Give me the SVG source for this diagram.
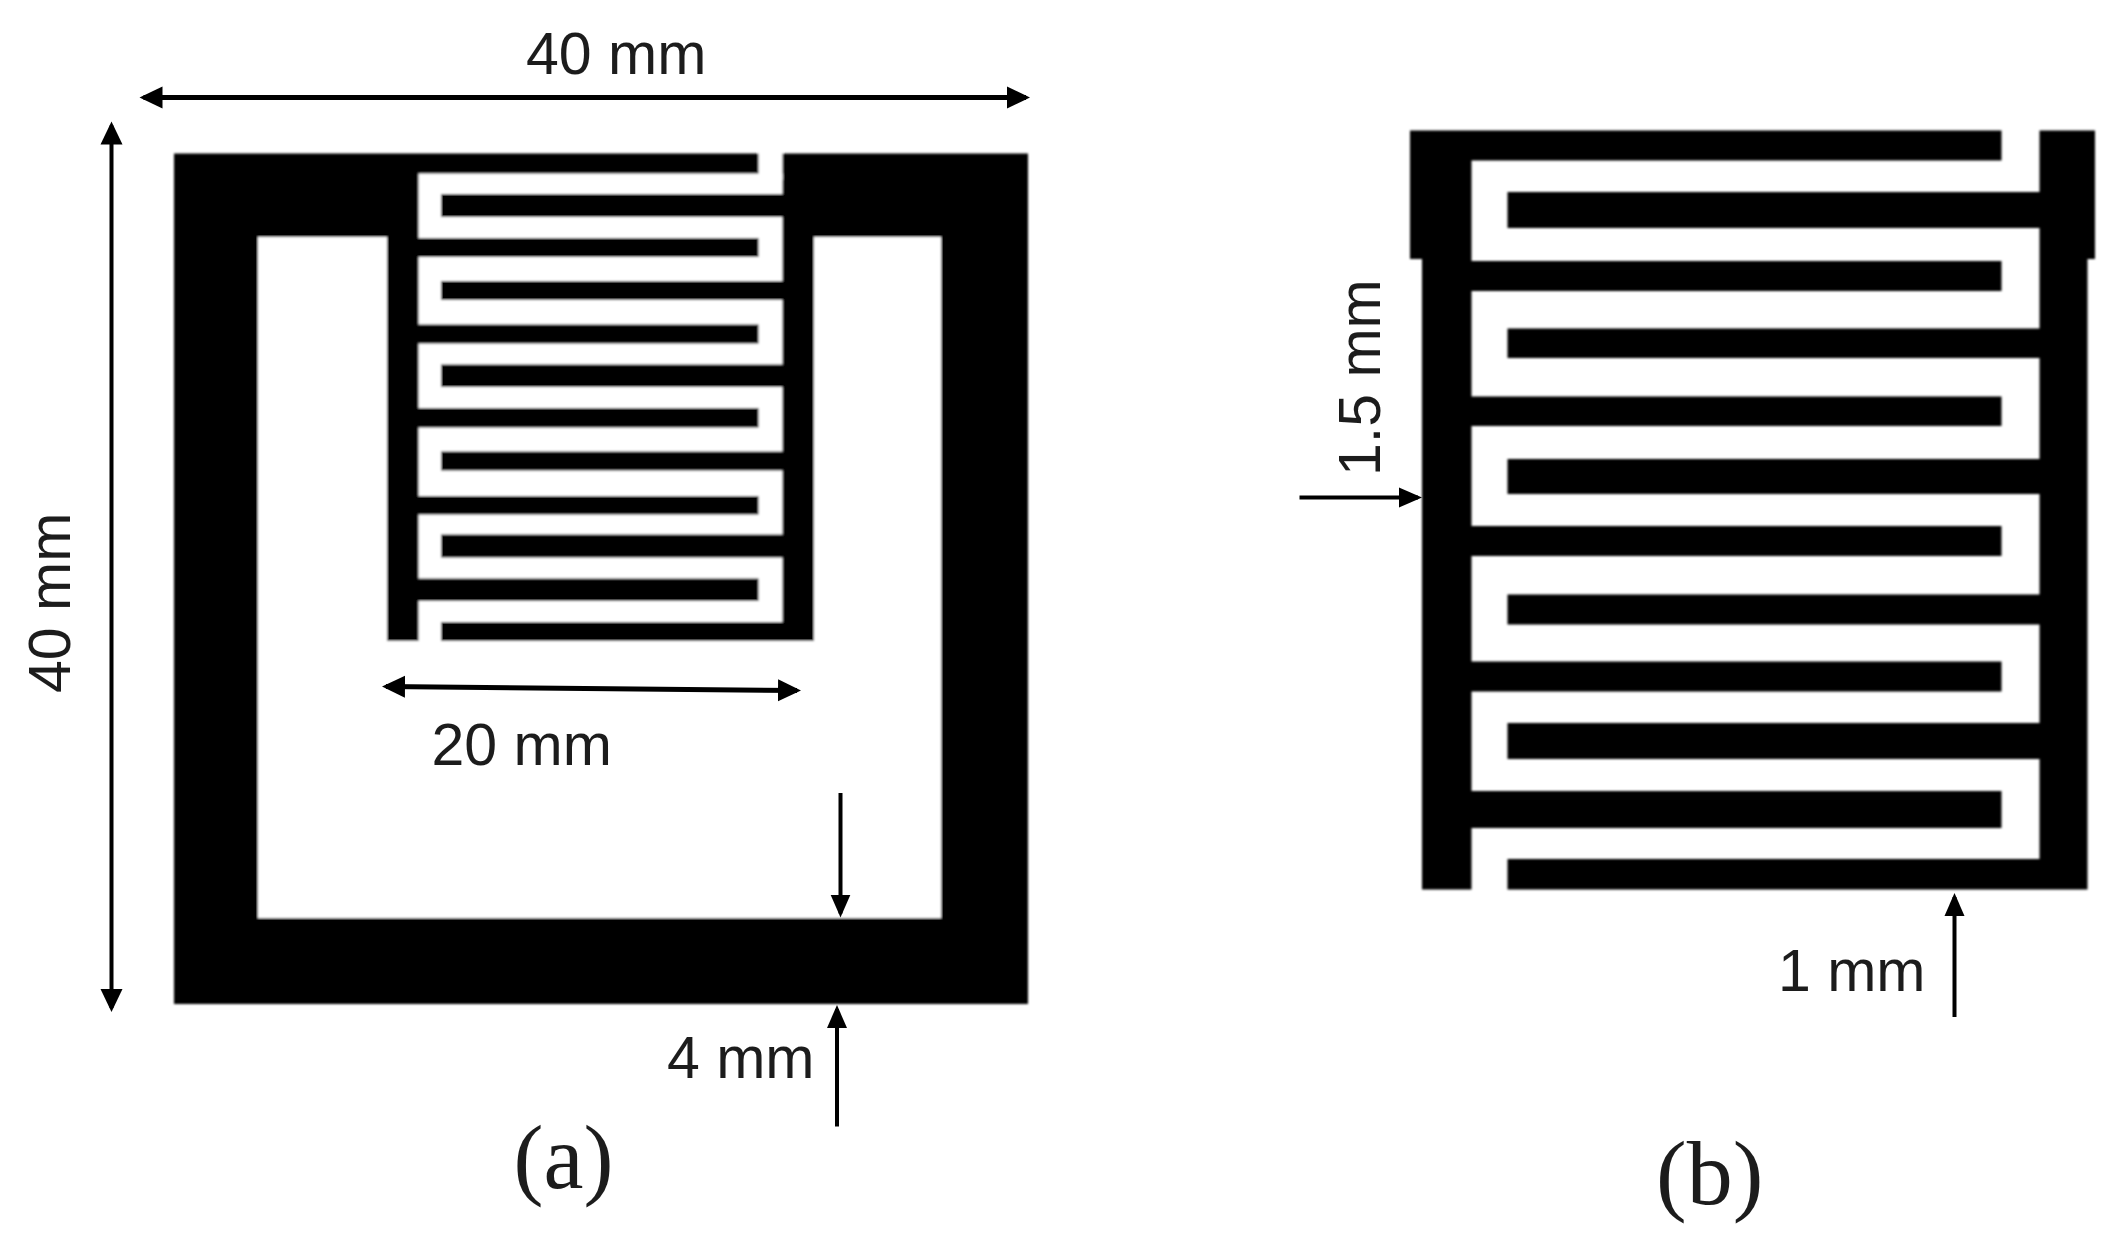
<svg xmlns="http://www.w3.org/2000/svg" width="2120" height="1251" viewBox="0 0 2120 1251">
<style>
.k{fill:#000}
.w{fill:#fff}
.t{font-family:"Liberation Sans",Arial,sans-serif;font-size:59px;fill:#1c1c1c}
.c{font-family:"Liberation Serif","Times New Roman",serif;fill:#1c1c1c}
.a{stroke:#000;fill:none;stroke-width:4}
.b{stroke:#000;fill:none;stroke-width:5}
.s{marker-end:url(#h)}
.d{marker-start:url(#hs);marker-end:url(#h2)}
</style>
<defs>
<marker id="h" markerUnits="userSpaceOnUse" markerWidth="24" markerHeight="24" viewBox="0 0 24 24" refX="19" refY="12" orient="auto"><path d="M0 2L23 12L0 22z" fill="#000"/></marker>
<marker id="h2" markerUnits="userSpaceOnUse" markerWidth="24" markerHeight="24" viewBox="0 0 24 24" refX="19" refY="12" orient="auto"><path d="M0 1L23 12L0 23z" fill="#000"/></marker>
<marker id="hs" markerUnits="userSpaceOnUse" markerWidth="24" markerHeight="24" viewBox="0 0 24 24" refX="5" refY="12" orient="auto"><path d="M24 1L1 12L24 23z" fill="#000"/></marker>
<filter id="soft" x="-2%" y="-2%" width="104%" height="104%"><feGaussianBlur stdDeviation="0.9"/></filter>
<filter id="softText" x="-5%" y="-5%" width="110%" height="110%"><feGaussianBlur stdDeviation="0.5"/></filter>
</defs>
<rect width="2120" height="1251" fill="#fff"/>
<g id="node-a-sensor" filter="url(#soft)">
<rect class="k" x="174" y="153.500" width="854" height="850.500"/>
<path class="w" d="M258 237H387V641H814V237H941V918H258z"/>
<rect class="w" x="418.500" y="173.500" width="364" height="467.500"/>
<rect class="w" x="758.500" y="150" width="24" height="30"/>
<rect class="k" x="418" y="238" width="340.500" height="19"/>
<rect class="k" x="418" y="324.500" width="340.500" height="19"/>
<rect class="k" x="418" y="408" width="340.500" height="19.500"/>
<rect class="k" x="418" y="496" width="340.500" height="18.500"/>
<rect class="k" x="418" y="578.500" width="340.500" height="22.500"/>
<rect class="k" x="441" y="194" width="342" height="23"/>
<rect class="k" x="441" y="281" width="342" height="19"/>
<rect class="k" x="441" y="364.500" width="342" height="22.500"/>
<rect class="k" x="441" y="451.500" width="342" height="19"/>
<rect class="k" x="441" y="534.500" width="342" height="23"/>
<rect class="k" x="441" y="622" width="342" height="19"/>
</g>
<g id="node-b-comb" filter="url(#soft)">
<path class="k" d="M1410 130.500H2001.500V160.500H1471.500V889.500H1422V259H1410z"/>
<path class="k" d="M2039.500 130.500H2095V259H2087.500V889.500H1507.500V859H2039.500z"/>
<rect class="k" x="1471" y="261" width="530.500" height="30"/>
<rect class="k" x="1471" y="396.500" width="530.500" height="29.500"/>
<rect class="k" x="1471" y="526" width="530.500" height="30"/>
<rect class="k" x="1471" y="661.500" width="530.500" height="30"/>
<rect class="k" x="1471" y="791" width="530.500" height="37"/>
<rect class="k" x="1507.500" y="192" width="533" height="36"/>
<rect class="k" x="1507.500" y="328.500" width="533" height="29.500"/>
<rect class="k" x="1507.500" y="459" width="533" height="35"/>
<rect class="k" x="1507.500" y="594.500" width="533" height="30"/>
<rect class="k" x="1507.500" y="723" width="533" height="36"/>
</g>
<g id="connectors">
<line class="b d" x1="143.500" y1="97.500" x2="1026" y2="97.500"/>
<line class="a d" x1="111.500" y1="125.500" x2="111.500" y2="1008"/>
<line class="b d" x1="386" y1="686.500" x2="797" y2="690.500"/>
<line class="a s" x1="840.500" y1="793" x2="840.500" y2="913.500"/>
<line class="a s" x1="837" y1="1126.500" x2="837" y2="1009"/>
<line class="a s" x1="1299.500" y1="497.500" x2="1418" y2="497.500"/>
<line class="a s" x1="1954.500" y1="1017" x2="1954.500" y2="897"/>
</g>
<g id="labels" filter="url(#softText)">
<text class="t" x="526" y="74">40 mm</text>
<text class="t" transform="translate(70 693) rotate(-90)">40 mm</text>
<text class="t" x="431.500" y="765">20 mm</text>
<text class="t" x="667" y="1078">4 mm</text>
<text class="t" transform="translate(1380 476) rotate(-90)">1.5 mm</text>
<text class="t" x="1778" y="991">1 mm</text>
<text class="c" x="513.500" y="1188" font-size="90">(a)</text>
<text class="c" x="1656" y="1204" font-size="92">(b)</text>
</g>
</svg>
